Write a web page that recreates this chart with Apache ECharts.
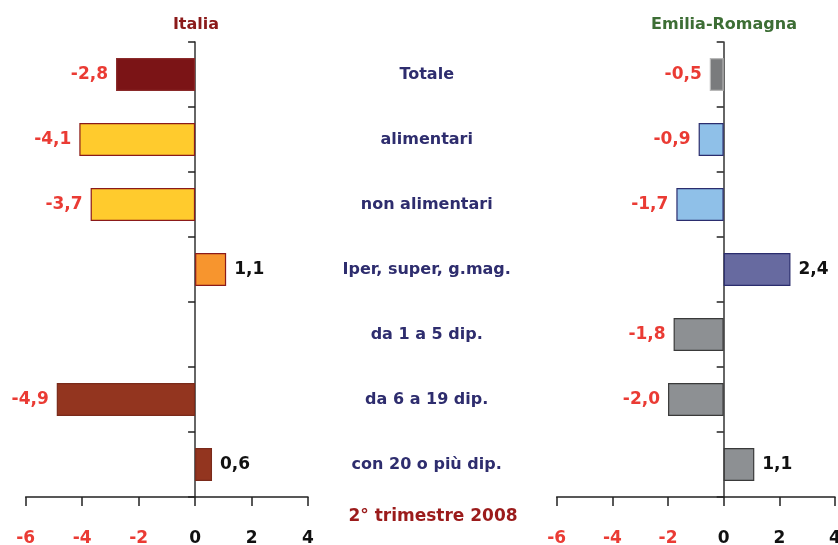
<!DOCTYPE html>
<html>
<head>
<meta charset="utf-8">
<script src="https://cdn.jsdelivr.net/npm/echarts@6/dist/echarts.min.js"></script>
<style>html,body{margin:0;padding:0;background:#fff;}#c{width:838px;height:545px;}</style>
</head>
<body>
<div id="c"></div>
<script>
const categories = ['Totale', 'alimentari', 'non alimentari', 'Iper, super, g.mag.', 'da 1 a 5 dip.', 'da 6 a 19 dip.', 'con 20 o più dip.'];
const italiaValues = [-2.8, -4.1, -3.7, 1.1, null, -4.9, 0.6];
const emiliaValues = [-0.5, -0.9, -1.7, 2.4, -1.8, -2.0, 1.1];
const xTicks = { min: -6, max: 4, interval: 2 };

const italiaFill = ['#7b1416', '#ffcb2d', '#ffcb2d', '#f7952e', '#93351f', '#93351f', '#93351f'];
const italiaBorder = ['#8a2a2a', '#8b1a1a', '#8b1a1a', '#8b1a1a', '#7a2a1a', '#7a2a1a', '#7a2a1a'];
const emiliaFill = ['#7a7b7d', '#8fc0e8', '#8fc0e8', '#676aa0', '#8d9093', '#8d9093', '#8d9093'];
const emiliaBorder = ['#b8b8b8', '#2b2d6e', '#2b2d6e', '#2b2d6e', '#3a3a3a', '#3a3a3a', '#3a3a3a'];

const FONT = '"DejaVu Sans", sans-serif';
const RED = '#ea3b34';

function fmt(v) { return v.toFixed(1).replace('.', ','); }

function makeData(vals, fills, borders) {
  return vals.map((v, i) => {
    if (v === null) return null;
    return {
      value: v,
      itemStyle: { color: fills[i], borderColor: borders[i], borderWidth: 1.2 },
      label: {
        show: true,
        position: v < 0 ? 'left' : 'right',
        distance: 8,
        color: v < 0 ? RED : '#111',
        fontWeight: 'bold',
        fontSize: 17,
        fontFamily: FONT,
        formatter: () => fmt(v)
      }
    };
  });
}

function xAxis(gridIndex) {
  return {
    type: 'value', gridIndex, min: xTicks.min, max: xTicks.max, interval: xTicks.interval,
    splitLine: { show: false },
    axisLine: { show: true, lineStyle: { color: '#222', width: 1.5 } },
    axisTick: { show: true, length: 9, lineStyle: { color: '#222', width: 1.5 } },
    axisLabel: {
      margin: 33, fontSize: 17, fontWeight: 'bold', fontFamily: FONT,
      formatter: v => v < 0 ? '{r|' + v + '}' : '{b|' + v + '}',
      rich: {
        r: { color: RED, fontSize: 17, fontWeight: 'bold', fontFamily: FONT },
        b: { color: '#111', fontSize: 17, fontWeight: 'bold', fontFamily: FONT }
      }
    }
  };
}

function yAxis(gridIndex, showLabels) {
  return {
    type: 'category', gridIndex, data: categories, inverse: true,
    axisLine: { show: true, onZero: true, lineStyle: { color: '#333', width: 1.5 } },
    axisTick: { show: true, length: 7, lineStyle: { color: '#222', width: 1.5 } },
    axisLabel: showLabels ? {
      show: true, margin: 130, align: 'center', color: '#2e2d6e',
      fontSize: 16, fontWeight: 'bold', fontFamily: FONT
    } : { show: false }
  };
}

const chart = echarts.init(document.getElementById('c'));
chart.setOption({
  animation: false,
  backgroundColor: '#fff',
  title: [
    { text: 'Italia', left: 191, top: 12, textAlign: 'center',
      textStyle: { color: '#8b1a1a', fontSize: 16, fontWeight: 'bold', fontFamily: FONT } },
    { text: 'Emilia-Romagna', left: 719, top: 12, textAlign: 'center',
      textStyle: { color: '#3d6e35', fontSize: 16, fontWeight: 'bold', fontFamily: FONT } },
    { text: '2° trimestre 2008', left: 428, top: 503, textAlign: 'center',
      textStyle: { color: '#9b1b1b', fontSize: 17, fontWeight: 'bold', fontFamily: FONT } }
  ],
  grid: [
    { left: 25.7, width: 282.3, top: 42, height: 455, outerBoundsMode: 'none', containLabel: false },
    { left: 556.7, width: 278.3, top: 42, height: 455, outerBoundsMode: 'none', containLabel: false }
  ],
  xAxis: [xAxis(0), xAxis(1)],
  yAxis: [yAxis(0, false), yAxis(1, true)],
  series: [
    { type: 'bar', xAxisIndex: 0, yAxisIndex: 0, barWidth: 33,
      data: makeData(italiaValues, italiaFill, italiaBorder) },
    { type: 'bar', xAxisIndex: 1, yAxisIndex: 1, barWidth: 33,
      data: makeData(emiliaValues, emiliaFill, emiliaBorder) }
  ]
});
</script>
</body>
</html>
